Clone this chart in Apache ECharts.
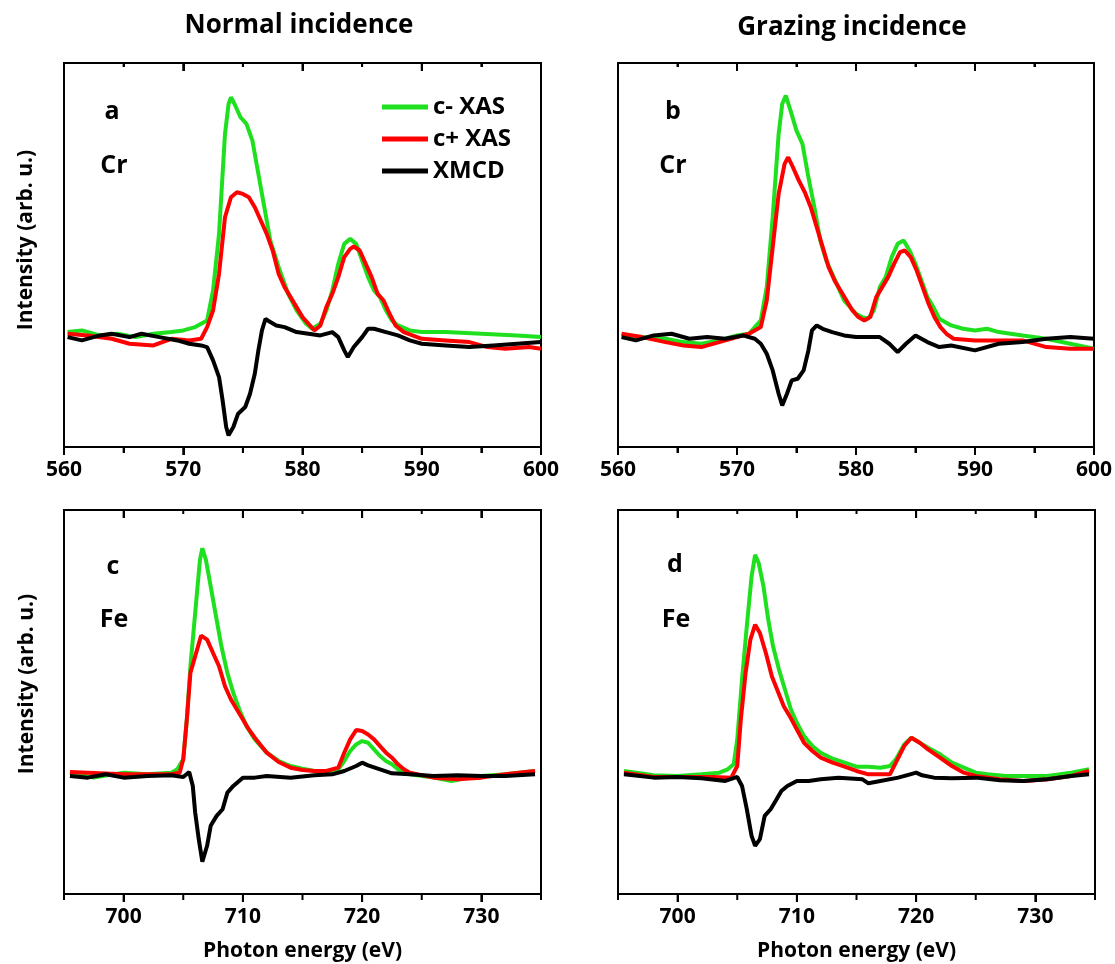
<!DOCTYPE html>
<html><head><meta charset="utf-8">
<script src="https://cdn.jsdelivr.net/npm/echarts@6/dist/echarts.min.js"></script>
<style>html,body{margin:0;padding:0;background:#fff}#c{width:1115px;height:964px}</style>
</head><body><div id="c"></div><script>
// ---------- tick labels / tick positions ----------
const crMajor = [560, 570, 580, 590, 600];
const crMinor = [565, 575, 585, 595];
const feMajor = [700, 710, 720, 730];
const feMinor = [695, 705, 715, 725, 735];

// ---------- panel a : Cr, normal incidence ----------
const aGreen = [[560.3,0.05],[561.5,0.10],[563,-0.05],[564.5,0],[566,-0.10],[567.5,0],[569,0.05],[570,0.10],[571,0.20],[572,0.40],[572.5,1.30],[573,3.00],[573.5,6.00],[573.8,6.90],[574.0,7.10],[574.3,6.90],[574.8,6.50],[575.3,6.30],[575.8,5.80],[576.2,5.00],[576.7,4.00],[577.3,2.80],[578,2.00],[578.8,1.20],[579.5,0.70],[580.3,0.30],[580.8,0.15],[581.5,0.30],[582,0.70],[582.5,1.30],[583,2.10],[583.5,2.70],[584,2.85],[584.5,2.70],[585,2.20],[585.5,1.70],[586,1.30],[586.5,1.10],[587,0.70],[587.5,0.40],[588,0.25],[589,0.10],[590,0.05],[592,0.05],[595,0],[598,-0.05],[600,-0.10]];
const aRed = [[560.3,0],[562,-0.05],[564,-0.15],[565.5,-0.30],[567.5,-0.35],[569,-0.15],[570.5,-0.20],[571.5,-0.15],[572,0.20],[572.5,0.70],[573,1.80],[573.5,3.50],[574,4.10],[574.5,4.25],[575,4.20],[575.5,4.10],[576,3.80],[576.5,3.40],[577,3.00],[577.5,2.50],[578,1.80],[578.5,1.40],[579,1.10],[579.5,0.80],[580,0.50],[580.5,0.30],[581,0.10],[581.5,0.25],[582,0.80],[582.5,1.20],[583,1.70],[583.5,2.30],[584,2.55],[584.3,2.62],[584.8,2.50],[585.3,2.10],[585.8,1.70],[586.3,1.20],[586.8,1.00],[587.3,0.60],[587.8,0.25],[588.5,0.05],[590,-0.15],[592,-0.20],[594,-0.25],[595.5,-0.40],[597,-0.45],[599,-0.40],[600,-0.45]];
const aBlack = [[560.3,-0.10],[561.5,-0.20],[563,-0.05],[564,0],[565.5,-0.10],[566.5,0],[568,-0.10],[569.5,-0.20],[570.5,-0.30],[571.5,-0.35],[572,-0.40],[572.5,-0.80],[573,-1.30],[573.3,-2.00],[573.6,-2.80],[573.8,-3.05],[574.2,-2.80],[574.6,-2.40],[575.2,-2.20],[575.6,-1.80],[576,-1.20],[576.3,-0.50],[576.6,0.10],[576.9,0.45],[577.3,0.35],[577.8,0.25],[578.5,0.20],[579.5,0.05],[580.5,0],[581.5,-0.05],[582.5,0.05],[583,-0.10],[583.5,-0.50],[583.8,-0.70],[584.3,-0.40],[585,-0.10],[585.5,0.15],[586,0.15],[587,0.05],[588,-0.05],[589,-0.20],[590,-0.30],[592,-0.35],[594,-0.40],[596,-0.35],[598,-0.30],[600,-0.25]];

// ---------- panel b : Cr, grazing incidence ----------
const bGreen = [[560.3,-0.05],[562,-0.10],[564,-0.15],[565.5,-0.25],[567,-0.30],[568.5,-0.20],[570,-0.05],[571,0],[572,0.40],[572.5,1.40],[573,3.50],[573.5,6.00],[573.8,6.90],[574.1,7.15],[574.5,6.70],[575,6.10],[575.5,5.70],[576,4.70],[576.5,3.80],[577,2.80],[577.5,2.20],[578,1.80],[579,1.00],[580,0.60],[580.5,0.50],[581,0.45],[581.5,0.70],[582,1.40],[582.5,1.70],[583,2.30],[583.5,2.70],[584,2.80],[584.5,2.50],[585,2.10],[585.5,1.60],[586,1.10],[586.5,0.80],[587,0.45],[588,0.25],[589,0.15],[590,0.10],[591,0.15],[592,0.05],[594,-0.05],[596,-0.15],[598,-0.30],[600,-0.45]];
const bRed = [[560.3,0],[562,-0.10],[564,-0.25],[565.5,-0.35],[567,-0.40],[568.5,-0.25],[570,-0.10],[571,0],[572,0.20],[572.5,1.00],[573,2.60],[573.5,4.20],[574,5.10],[574.3,5.30],[574.7,5.00],[575.2,4.60],[575.7,4.25],[576.2,3.80],[576.7,3.20],[577.2,2.60],[577.7,2.00],[578.2,1.60],[578.7,1.30],[579.2,1.00],[579.7,0.70],[580.2,0.50],[580.7,0.40],[581.2,0.50],[581.7,1.10],[582.2,1.40],[582.7,1.70],[583.2,2.10],[583.7,2.45],[584.1,2.50],[584.6,2.30],[585.1,1.90],[585.6,1.40],[586.1,0.90],[586.6,0.50],[587.1,0.20],[587.6,0],[588.2,-0.15],[590,-0.20],[592,-0.20],[594,-0.20],[596,-0.40],[598,-0.45],[600,-0.45]];
const bBlack = [[560.3,-0.10],[561.5,-0.20],[563,-0.05],[564.5,0],[566,-0.15],[567.5,-0.10],[569,-0.15],[570.5,-0.05],[571.5,-0.15],[572,-0.30],[572.5,-0.60],[573,-1.10],[573.5,-1.80],[573.8,-2.15],[574.2,-1.80],[574.6,-1.40],[575.1,-1.35],[575.6,-1.10],[576,-0.50],[576.3,0.10],[576.7,0.25],[577.2,0.15],[578,0.05],[579,-0.05],[580,-0.10],[581,-0.10],[582,-0.10],[582.8,-0.30],[583.5,-0.55],[584.2,-0.30],[585,-0.05],[586,-0.25],[587,-0.40],[588,-0.35],[590,-0.50],[592,-0.30],[594,-0.25],[596,-0.15],[598,-0.10],[600,-0.15]];

// ---------- panel c : Fe, normal incidence ----------
const cGreen = [[695.5,0.05],[697.5,-0.10],[700,0.05],[702,0],[704,0.05],[704.5,0.15],[705,0.45],[705.3,1.65],[705.6,3.25],[706,4.85],[706.4,6.45],[706.6,6.80],[706.9,6.45],[707.3,5.65],[707.7,4.85],[708.2,3.85],[708.7,3.05],[709.2,2.45],[709.7,1.95],[710.3,1.45],[711,1.05],[712,0.65],[713,0.40],[714,0.25],[715,0.17],[716,0.10],[717,0.07],[718,0.15],[718.5,0.40],[719,0.70],[719.5,0.90],[720,1.00],[720.5,0.95],[721,0.75],[721.5,0.55],[722,0.40],[722.5,0.30],[723,0.15],[724,0],[726,-0.10],[727.5,-0.20],[729,-0.10],[730,-0.05],[732,0],[734.5,0.10]];
const cRed = [[695.5,0.07],[700,0],[704,0],[704.7,0.05],[705,0.45],[705.3,1.65],[705.6,3.05],[706,3.55],[706.5,4.17],[707,4.05],[707.5,3.65],[708,3.25],[708.5,2.65],[709,2.25],[709.5,1.95],[710,1.65],[710.5,1.35],[711,1.10],[712,0.65],[713,0.37],[714,0.20],[715,0.13],[716,0.10],[717,0.10],[718,0.20],[718.5,0.65],[719,1.05],[719.5,1.33],[720,1.30],[720.5,1.20],[721,1.05],[721.5,0.85],[722,0.65],[722.5,0.50],[723,0.30],[723.5,0.15],[724,0.05],[726,-0.10],[728,-0.15],[730,-0.10],[732,0],[734.5,0.10]];
const cBlack = [[695.5,-0.05],[697,-0.10],[698.5,0],[700,-0.10],[702,-0.05],[704,-0.03],[705,-0.08],[705.5,0.07],[705.8,-0.35],[706,-1.15],[706.3,-1.95],[706.6,-2.63],[707,-2.15],[707.3,-1.55],[707.8,-1.25],[708.3,-1.05],[708.7,-0.55],[709.2,-0.35],[710,-0.10],[711,-0.10],[712,-0.05],[714,-0.10],[716,-0.03],[717.5,0],[718.5,0.10],[719.5,0.25],[720,0.35],[720.5,0.27],[721.5,0.15],[722.5,0.03],[724,0],[726,-0.05],[728,-0.03],[730,-0.05],[732,-0.05],[734.5,0]];

// ---------- panel d : Fe, grazing incidence ----------
const dGreen = [[695.5,0.10],[698,-0.03],[700,-0.05],[702,0],[703.5,0.05],[704.2,0.15],[704.7,0.30],[705,1.05],[705.4,2.85],[705.8,4.45],[706.2,5.95],[706.5,6.60],[706.8,6.35],[707.2,5.65],[707.6,4.65],[708,3.85],[708.5,3.15],[709,2.55],[709.5,1.95],[710,1.55],[710.6,1.15],[711.3,0.85],[712,0.65],[713,0.47],[714,0.35],[715,0.23],[716,0.23],[717,0.20],[717.8,0.25],[718.3,0.45],[719,0.90],[719.6,1.10],[720.3,0.95],[721,0.80],[722,0.60],[723,0.35],[724,0.20],[725,0.05],[726,0],[727.5,-0.05],[729,-0.05],[731,-0.05],[733,0.05],[734.5,0.15]];
const dRed = [[695.5,0.05],[698,-0.08],[700,-0.08],[703,-0.08],[704.5,-0.10],[705,0.25],[705.3,1.65],[705.7,3.05],[706.1,4.05],[706.5,4.50],[706.9,4.25],[707.4,3.65],[707.9,2.95],[708.4,2.50],[708.9,2.05],[709.4,1.75],[710,1.35],[710.6,0.95],[711.3,0.70],[712,0.50],[713,0.35],[714,0.23],[715,0.10],[716,0],[717,0],[717.8,0],[718.3,0.35],[719,0.85],[719.6,1.10],[720.3,0.95],[721,0.75],[722,0.50],[723,0.25],[724,0.05],[725,-0.05],[727,-0.15],[729,-0.20],[731,-0.15],[733,-0.05],[734.5,0.10]];
const dBlack = [[695.5,0],[698,-0.10],[700,-0.08],[702,-0.12],[704,-0.20],[705,-0.08],[705.4,-0.35],[705.8,-1.05],[706.2,-1.85],[706.5,-2.15],[706.9,-1.95],[707.3,-1.25],[707.8,-1.05],[708.3,-0.75],[708.7,-0.50],[709.2,-0.35],[710,-0.20],[711,-0.20],[712,-0.15],[713.5,-0.10],[715.5,-0.15],[716,-0.27],[717,-0.20],[718.5,-0.10],[719.5,0],[720,0.05],[720.5,-0.03],[721.5,-0.10],[723,-0.12],[725,-0.10],[727,-0.18],[729,-0.20],[731,-0.15],[733,-0.05],[734.5,0]];

const seriesNames = ['c- XAS', 'c+ XAS', 'XMCD'];
const colors = ['#1ee01e', '#ff0000', '#000000'];

const FONT = '"Open Sans", "Noto Sans", sans-serif';
const panels = [
  {grid:{left:64, top:63, width:477, height:384}, xmin:560, xmax:600, ymin:-3.40, ymax:8.13, major:crMajor, minor:crMinor, data:[aGreen,aRed,aBlack], xname:''},
  {grid:{left:618, top:63, width:477, height:384}, xmin:560, xmax:600, ymin:-3.40, ymax:8.13, major:crMajor, minor:crMinor, data:[bGreen,bRed,bBlack], xname:''},
  {grid:{left:64, top:510, width:477, height:384}, xmin:695, xmax:735, ymin:-3.60, ymax:7.95, major:feMajor, minor:feMinor, data:[cGreen,cRed,cBlack], xname:'Photon energy (eV)'},
  {grid:{left:618, top:510, width:477, height:384}, xmin:695, xmax:735, ymin:-3.60, ymax:7.95, major:feMajor, minor:feMinor, data:[dGreen,dRed,dBlack], xname:'Photon energy (eV)'}
];

const grids = [], xAxes = [], yAxes = [], series = [];
const tickStyle = {color:'#000', width:2};

// tick marks drawn through the axis scales (outward at the bottom, inward at the top)
const tickSeries = (ax, yi, p, values, lenOut, lenIn) => ({
  type:'custom', xAxisIndex:ax, yAxisIndex:yi, silent:true, clip:false, z:10,
  data: values.map(v => [v, p.ymin]), encode:{x:0, y:1},
  renderItem: (params, api) => {
    const x = api.value(0);
    const b = api.coord([x, p.ymin]);
    const t = api.coord([x, p.ymax]);
    return {type:'group', children:[
      {type:'line', shape:{x1:b[0], y1:b[1], x2:b[0], y2:b[1] + lenOut}, style:{stroke:'#000', lineWidth:2}},
      {type:'line', shape:{x1:t[0], y1:t[1], x2:t[0], y2:t[1] + lenIn}, style:{stroke:'#000', lineWidth:2}}
    ]};
  }
});

panels.forEach((p, i) => {
  grids.push(Object.assign({show:true, borderColor:'#000', borderWidth:2}, p.grid));
  const aligned = p.xmin % 10 === 0;
  const mainIndex = xAxes.length;
  const bottom = {gridIndex:i, type:'value', min:p.xmin, max:p.xmax, position:'bottom',
    axisLine:{show:false, onZero:false}, splitLine:{show:false},
    axisLabel:{show:true, margin:13, fontSize:21, fontWeight:'bold', color:'#000', fontFamily:FONT},
    name:p.xname, nameLocation:'middle', nameGap:47,
    nameTextStyle:{fontSize:21, fontWeight:'bold', color:'#000', fontFamily:FONT}};
  const top = {gridIndex:i, type:'value', min:p.xmin, max:p.xmax, position:'top',
    axisLine:{show:false, onZero:false}, splitLine:{show:false}};
  if (aligned) {
    bottom.interval = 10; top.interval = 10;
    bottom.axisTick = {show:true, length:8, lineStyle:tickStyle};
    bottom.minorTick = {show:true, splitNumber:2, length:6, lineStyle:tickStyle};
    top.axisTick = {show:true, inside:true, length:8, lineStyle:tickStyle};
    top.minorTick = {show:true, splitNumber:2, length:4, lineStyle:tickStyle};
    top.axisLabel = {show:false};
  } else {
    bottom.axisLabel.customValues = p.major;
    bottom.axisTick = {show:true, length:8, customValues:p.major, lineStyle:tickStyle};
    top.axisTick = {show:true, inside:true, length:8, customValues:p.major, lineStyle:tickStyle};
    top.axisLabel = {show:false, customValues:p.major};
  }
  xAxes.push(bottom, top);
  yAxes.push({gridIndex:i, type:'value', min:p.ymin, max:p.ymax,
    axisLine:{show:false, onZero:false}, axisTick:{show:false}, axisLabel:{show:false}, splitLine:{show:false}});
  p.data.forEach((d, k) => {
    series.push({type:'line', name:seriesNames[k], xAxisIndex:mainIndex, yAxisIndex:i, data:d,
      showSymbol:false, symbol:'none', smooth:false, z:2+k,
      color:colors[k], lineStyle:{width:4, color:colors[k]}, itemStyle:{color:colors[k]}});
  });
  series.push(tickSeries(mainIndex, i, p, p.major, 8, 8));
  series.push(tickSeries(mainIndex, i, p, p.minor, 6, 4));
});

const txt = (text, x, y, size, rot) => ({type:'text', x:x, y:y, rotation:rot||0,
  style:{text:text, font:'bold '+size+'px '+FONT, fill:'#000', textAlign:'center', textVerticalAlign:'middle'}});

const graphics = [
  txt('Normal incidence', 299, 26, 26),
  txt('Grazing incidence', 852, 28, 26),
  txt('Intensity (arb. u.)', 26, 240, 21, Math.PI/2),
  txt('Intensity (arb. u.)', 27, 684, 21, Math.PI/2),
  txt('a', 112, 112, 25), txt('Cr', 114, 166, 25),
  txt('b', 673, 112, 25), txt('Cr', 673, 166, 25),
  txt('c', 113, 567, 25), txt('Fe', 114, 620, 25),
  txt('d', 675, 565, 25), txt('Fe', 676, 620, 25)
];

const chart = echarts.init(document.getElementById('c'), null, {renderer:'canvas'});
chart.setOption({
  animation:false,
  backgroundColor:'#fff',
  grid:grids, xAxis:xAxes, yAxis:yAxes, series:series,
  legend:{data:seriesNames, orient:'vertical', left:377, top:90, icon:'rect',
    itemWidth:46, itemHeight:5, itemGap:8, selectedMode:false,
    textStyle:{fontSize:24, lineHeight:24, fontWeight:'bold', color:'#000', fontFamily:FONT}},
  graphic:graphics
});
</script></body></html>
